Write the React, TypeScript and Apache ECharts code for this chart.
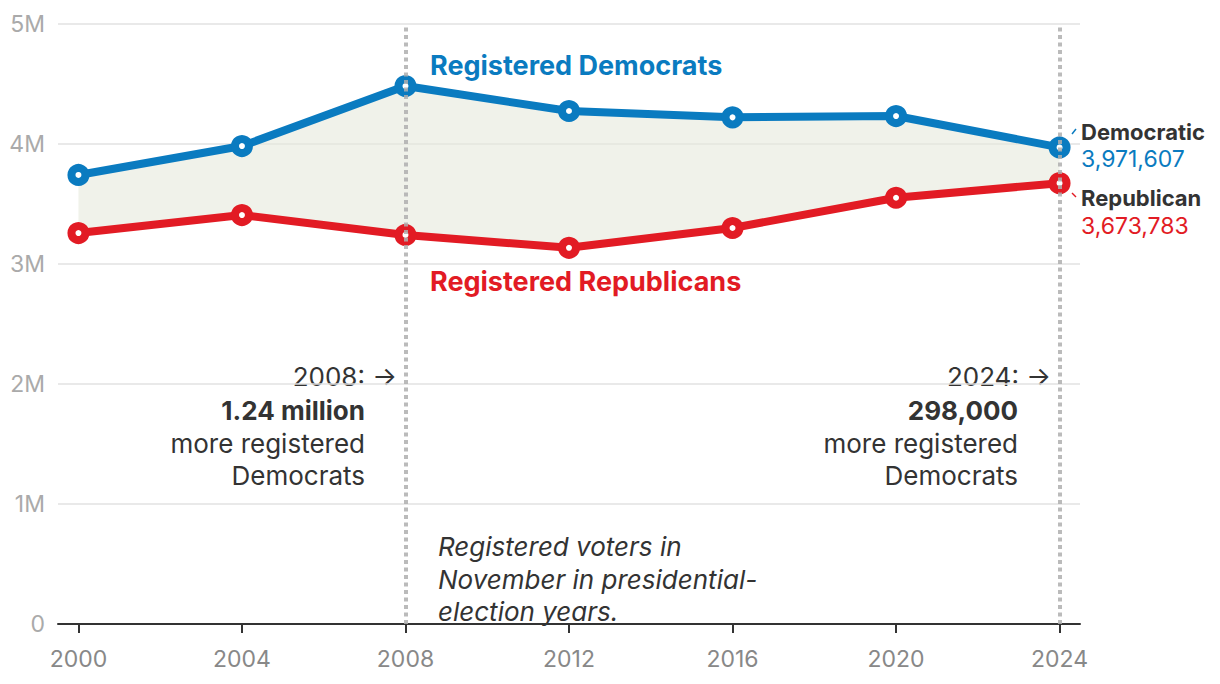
import React, { useEffect, useRef } from "react";
import * as echarts from "echarts";

const years = [2000, 2004, 2008, 2012, 2016, 2020, 2024];
const democrats = [3742000, 3983000, 4483000, 4275000, 4222000, 4233000, 3971607];
const republicans = [3258000, 3408000, 3242000, 3135000, 3300000, 3552000, 3673783];
const yTicks = [0, 1000000, 2000000, 3000000, 4000000, 5000000];
const yTickLabels = ["0", "1M", "2M", "3M", "4M", "5M"];
const markYears = [2008, 2024];

const BLUE = "#0a7bc0";
const RED = "#e21b24";
const DARK = "#333333";
const FONT = "Inter, 'Noto Sans', sans-serif";

export default function App() {
  const ref = useRef<HTMLDivElement>(null);
  useEffect(() => {
    const chart = echarts.init(ref.current!, null, { renderer: "svg" });
    const repPairs = years.map((y, i) => [y, republicans[i]]);
    const demPairs = years.map((y, i) => [y, democrats[i]]);
    const markerStyle = (c: string) => ({
      symbol: "circle",
      symbolSize: 14,
      itemStyle: { color: "#ffffff", borderColor: c, borderWidth: 8 },
      lineStyle: { color: c, width: 8 },
    });
    const text = (x: number, y: number, t: string, opts: any = {}) => ({
      type: "text",
      x,
      y,
      style: {
        text: t,
        fontFamily: FONT,
        fontSize: opts.size || 26,
        fontWeight: opts.weight || "normal",
        fontStyle: opts.style || "normal",
        fill: opts.color || DARK,
        align: opts.align || "left",
        verticalAlign: "middle",
      },
    });
    chart.setOption({
      animation: false,
      grid: { left: 58, right: 140, top: 24, bottom: 60 },
      xAxis: {
        type: "value",
        min: 1999.5,
        max: 2024.5,
        splitLine: { show: false },
        axisLine: { show: true, lineStyle: { color: DARK, width: 2 } },
        axisTick: {
          show: true,
          customValues: years,
          length: 9,
          lineStyle: { color: DARK, width: 2 },
        },
        axisLabel: {
          customValues: years,
          formatter: (v: number) => String(v),
          color: "#888888",
          fontSize: 23,
          fontFamily: FONT,
          margin: 23,
        },
      },
      yAxis: {
        type: "value",
        min: 0,
        max: 5000000,
        interval: 1000000,
        axisLine: { show: false },
        axisTick: { show: false },
        splitLine: { lineStyle: { color: "#e2e2e2", width: 1.5 } },
        axisLabel: {
          color: "#aaaaaa",
          fontSize: 23,
          fontFamily: FONT,
          margin: 13,
          formatter: (v: number) => yTickLabels[yTicks.indexOf(v)] ?? "",
        },
      },
      series: [
        {
          type: "custom",
          data: years.map((y, i) => [y, democrats[i], republicans[i]]),
          silent: true,
          z: 1,
          renderItem: (params: any, api: any) => {
            if (params.dataIndex !== 0) return null;
            const top = demPairs.map((p) => api.coord(p));
            const bottom = repPairs.map((p) => api.coord(p)).reverse();
            return {
              type: "polygon",
              shape: { points: top.concat(bottom) },
              style: { fill: "#e6e9dc", opacity: 0.6 },
            };
          },
        },
        {
          type: "line",
          data: demPairs,
          z: 3,
          ...markerStyle(BLUE),
        },
        {
          type: "line",
          data: repPairs,
          z: 3,
          ...markerStyle(RED),
        },
        {
          type: "line",
          data: [],
          z: 5,
          silent: true,
          markLine: {
            silent: true,
            symbol: "none",
            label: { show: false },
            lineStyle: { color: "rgba(175,175,175,0.85)", width: 4, type: [4, 3.5] },
            data: markYears.map((y) => ({ xAxis: y })),
          },
        },
      ],
      graphic: [
        text(430, 65, "Registered Democrats", { weight: "bold", color: BLUE, size: 27 }),
        text(430, 281, "Registered Republicans", { weight: "bold", color: RED, size: 27 }),
        text(1081, 132, "Democratic", { weight: "bold", size: 22 }),
        text(1081, 159, "3,971,607", { color: BLUE, size: 23 }),
        text(1081, 198, "Republican", { weight: "bold", size: 22 }),
        text(1081, 226, "3,673,783", { color: RED, size: 23 }),
        {
          type: "line",
          shape: { x1: 1072, y1: 134, x2: 1076, y2: 129 },
          style: { stroke: BLUE, lineWidth: 1.5 },
        },
        {
          type: "line",
          shape: { x1: 1072, y1: 193, x2: 1076, y2: 197 },
          style: { stroke: RED, lineWidth: 1.5 },
        },
        text(397, 376, "2008: →", { align: "right" }),
        text(365, 410, "1.24 million", { weight: "bold", align: "right" }),
        text(365, 443, "more registered", { align: "right" }),
        text(365, 475, "Democrats", { align: "right" }),
        text(1051, 376, "2024: →", { align: "right" }),
        text(1018, 410, "298,000", { weight: "bold", align: "right" }),
        text(1018, 443, "more registered", { align: "right" }),
        text(1018, 475, "Democrats", { align: "right" }),
        text(438, 546, "Registered voters in", { style: "italic" }),
        text(438, 579, "November in presidential-", { style: "italic" }),
        text(438, 611, "election years.", { style: "italic" }),
      ],
    });
    return () => chart.dispose();
  }, []);
  return (
    <div
      ref={ref}
      style={{ position: "absolute", left: 0, top: 0, width: 1220, height: 684 }}
    />
  );
}
